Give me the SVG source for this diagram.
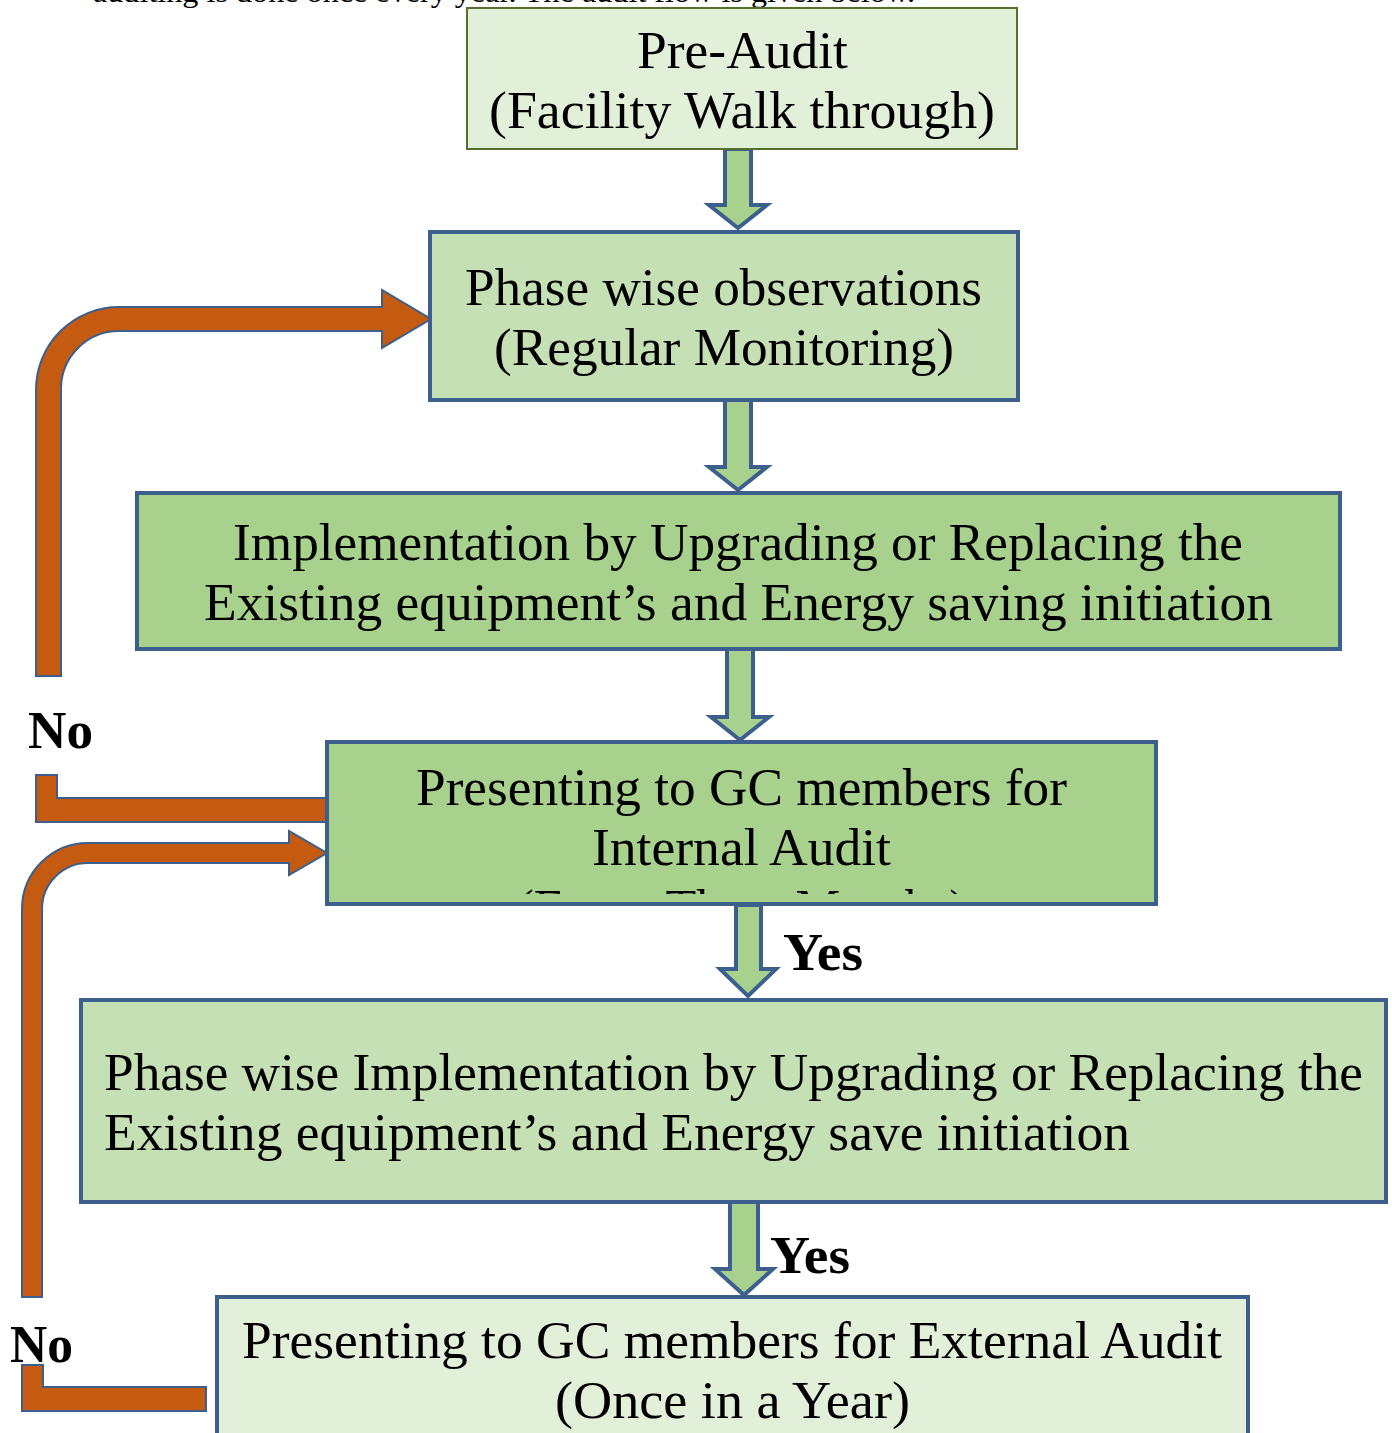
<svg xmlns="http://www.w3.org/2000/svg" width="1392" height="1433" viewBox="0 0 1392 1433">
<style>
  .t { font-family: "Liberation Serif", "Times New Roman", serif; font-size: 52px; fill: #000; }
  .b { font-family: "Liberation Serif", "Times New Roman", serif; font-size: 52px; font-weight: bold; fill: #000; }
  .top { font-family: "Liberation Serif", "Times New Roman", serif; font-size: 29px; fill: #000; }
  .box { stroke: #3C5F8E; stroke-width: 4; }
  .green { fill: #A9D18E; stroke: #3C5F8E; stroke-width: 4; stroke-linejoin: miter; }
  .orange { fill: #C55A11; stroke: #3C5F8E; stroke-width: 2; }
</style>
<defs>
  <clipPath id="clip4"><rect x="329" y="744" width="825" height="150"/></clipPath>
</defs>
<rect width="1392" height="1433" fill="#FFFFFF"/>
<text class="top" x="93" y="2" textLength="822" lengthAdjust="spacingAndGlyphs">auditing is done once every year. The audit flow is given below.</text>

<g id="connectors">
  <polygon class="green" points="725,149 751,149 751,205 767,205 738,228 709,205 725,205"/>
  <polygon class="green" points="725,400 751,400 751,467 767,467 738,490 709,467 725,467"/>
  <polygon class="green" points="727,649 753,649 753,717 769,717 740,740 711,717 727,717"/>
  <polygon class="green" points="736,905 761,905 761,969 776,969 748,996 720,969 736,969"/>
  <polygon class="green" points="730,1202 758,1202 758,1269 773,1269 744,1295 715,1269 730,1269"/>
  <path class="orange" d="M36,676 L36,390 A83,83 0 0 1 119,307 L382,307 L382,290 L431,319 L382,348 L382,331 L119,331 A58,58 0 0 0 61,389 L61,676 Z"/>
  <path class="orange" d="M36,775 L57,775 L57,798 L328,798 L328,822 L36,822 Z"/>
  <path class="orange" d="M22,1297 L22,909 A66,66 0 0 1 88,843 L289,843 L289,831 L327,853 L289,875 L289,863 L88,863 A46,46 0 0 0 42,909 L42,1297 Z"/>
  <path class="orange" d="M22,1365 L43,1365 L43,1387 L206,1387 L206,1411 L22,1411 Z"/>
  <text class="b" x="28" y="748" textLength="65" lengthAdjust="spacingAndGlyphs">No</text>
  <text class="b" x="10" y="1362" textLength="63" lengthAdjust="spacingAndGlyphs">No</text>
  <text class="b" x="783" y="970" textLength="80" lengthAdjust="spacingAndGlyphs">Yes</text>
  <text class="b" x="770" y="1273" textLength="80" lengthAdjust="spacingAndGlyphs">Yes</text>
</g>

<g id="node-preaudit">
  <rect x="467" y="8" width="550" height="141" fill="#E2EFD9" stroke="#55702E" stroke-width="2"/>
  <text class="t" x="742.5" y="68" text-anchor="middle" textLength="211" lengthAdjust="spacingAndGlyphs">Pre-Audit</text>
  <text class="t" x="742" y="128" text-anchor="middle" textLength="506" lengthAdjust="spacingAndGlyphs">(Facility Walk through)</text>
</g>

<g id="node-phase-observations">
  <rect class="box" x="430" y="232" width="588" height="168" fill="#C5E0B4"/>
  <text class="t" x="723.5" y="305" text-anchor="middle" textLength="517" lengthAdjust="spacingAndGlyphs">Phase wise observations</text>
  <text class="t" x="724" y="365" text-anchor="middle" textLength="460" lengthAdjust="spacingAndGlyphs">(Regular Monitoring)</text>
</g>

<g id="node-implementation">
  <rect class="box" x="137" y="493" width="1203" height="156" fill="#A9D18E"/>
  <text class="t" x="738" y="560" text-anchor="middle" textLength="1010" lengthAdjust="spacingAndGlyphs">Implementation by Upgrading or Replacing the</text>
  <text class="t" x="738.5" y="620" text-anchor="middle" textLength="1069" lengthAdjust="spacingAndGlyphs">Existing equipment’s and Energy saving initiation</text>
</g>

<g id="node-internal-audit">
  <rect class="box" x="327" y="742" width="829" height="162" fill="#A9D18E"/>
  <text class="t" x="741.5" y="805" text-anchor="middle" textLength="651" lengthAdjust="spacingAndGlyphs">Presenting to GC members for</text>
  <text class="t" x="741.5" y="865" text-anchor="middle" textLength="299" lengthAdjust="spacingAndGlyphs">Internal Audit</text>
  <g clip-path="url(#clip4)">
    <text class="t" x="741.5" y="926" text-anchor="middle" textLength="449" lengthAdjust="spacingAndGlyphs">(Every Three Months)</text>
  </g>
</g>

<g id="node-phase-implementation">
  <rect class="box" x="81" y="1000" width="1305" height="202" fill="#C5E0B4"/>
  <text class="t" x="104" y="1090" textLength="1259" lengthAdjust="spacingAndGlyphs">Phase wise Implementation by Upgrading or Replacing the</text>
  <text class="t" x="104" y="1150" textLength="1026" lengthAdjust="spacingAndGlyphs">Existing equipment’s and Energy save initiation</text>
</g>

<g id="node-external-audit">
  <rect class="box" x="217" y="1297" width="1031" height="160" fill="#E2EFD9"/>
  <text class="t" x="732" y="1358" text-anchor="middle" textLength="980" lengthAdjust="spacingAndGlyphs">Presenting to GC members for External Audit</text>
  <text class="t" x="732.5" y="1418" text-anchor="middle" textLength="355" lengthAdjust="spacingAndGlyphs">(Once in a Year)</text>
</g>
</svg>
